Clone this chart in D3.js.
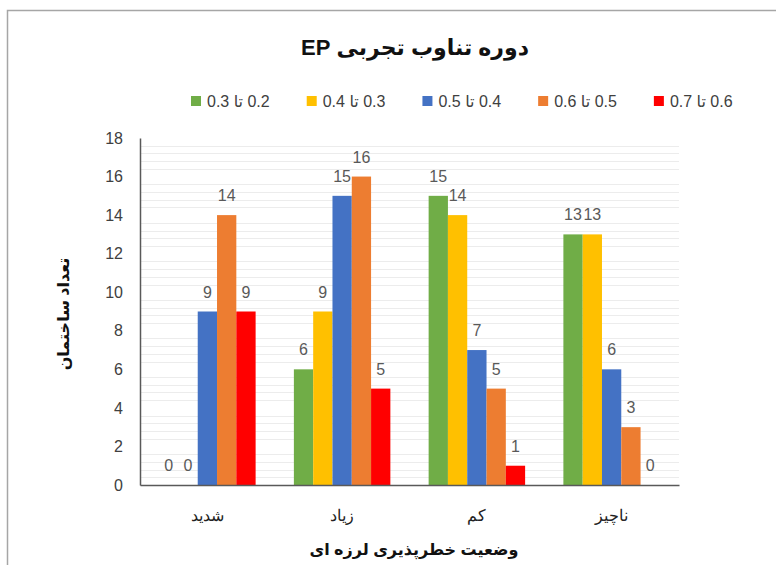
<!DOCTYPE html>
<html>
<head>
<meta charset="utf-8">
<script src="https://cdn.jsdelivr.net/npm/d3@7"></script>
<style>
	body { margin: 0; background: #fff; }
	svg { display: block; font-family: "Liberation Sans", Arial, "DejaVu Sans", sans-serif; }
</style>
</head>
<body>
<svg id="chart" width="776" height="565"></svg>
<script>
// categories along the x axis, left to right
var categories = ['شدید', 'زیاد', 'کم', 'ناچیز'];

// legend / series names
var seriesNames = ['0.2 تا 0.3', '0.3 تا 0.4', '0.4 تا 0.5', '0.5 تا 0.6', '0.6 تا 0.7'];
var seriesColors = ['#70AD47', '#FFC000', '#4472C4', '#ED7D31', '#FF0000'];

// values per series, in the order of categories
var s1 = [0, 6, 15, 13];
var s2 = [0, 9, 14, 13];
var s3 = [9, 15, 7, 6];
var s4 = [14, 16, 5, 3];
var s5 = [9, 5, 1, 0];

var yTicks = [0, 2, 4, 6, 8, 10, 12, 14, 16, 18];

var titleText = 'دوره تناوب تجربی EP';
var xTitle = 'وضعیت خطرپذیری لرزه ای';
var yTitle = 'تعداد ساختمان';

var seriesValues = [s1, s2, s3, s4, s5];

var svg = d3.select('#chart');

// outer chart frame (only left and top edges are visible)
svg.append('rect')
	.attr('x', 7.5).attr('y', 10.5)
	.attr('width', 900).attr('height', 900)
	.attr('fill', 'none')
	.attr('stroke', '#a6a6a6')
	.attr('stroke-width', 1.5);

var plotLeft = 140, plotRight = 679, plotTop = 138, plotBottom = 485;

var y = d3.scaleLinear().domain([0, 18]).range([plotBottom, plotTop]);

var x0 = d3.scaleBand()
	.domain(categories)
	.range([plotLeft, plotRight])
	.paddingInner(0.284)
	.paddingOuter(0.142);

var x1 = d3.scaleBand()
	.domain(d3.range(seriesNames.length))
	.range([0, x0.bandwidth()]);

// minor gridlines every 0.4 (major ones are not drawn)
var minor = d3.range(1, 45).filter(function(i) { return i % 5 != 0; }).map(function(i) { return i * 0.4; });
svg.append('g').selectAll('line')
	.data(minor)
	.enter()
	.append('line')
	.attr('x1', plotLeft).attr('x2', plotRight)
	.attr('y1', function(d) { return Math.round(y(d)) + 0.5; })
	.attr('y2', function(d) { return Math.round(y(d)) + 0.5; })
	.attr('stroke', '#ececec')
	.attr('stroke-width', 1);

// bars
var groups = svg.append('g').selectAll('g')
	.data(categories)
	.enter()
	.append('g')
	.attr('transform', function(d) { return 'translate(' + x0(d) + ',0)'; });

groups.selectAll('rect')
	.data(function(d, ci) {
		return seriesValues.map(function(vals, si) { return {s: si, v: vals[ci]}; });
	})
	.enter()
	.append('rect')
	.attr('x', function(d) { return x1(d.s); })
	.attr('width', x1.bandwidth())
	.attr('y', function(d) { return y(d.v); })
	.attr('height', function(d) { return plotBottom - y(d.v); })
	.attr('fill', function(d) { return seriesColors[d.s]; });

// value labels
groups.selectAll('text')
	.data(function(d, ci) {
		return seriesValues.map(function(vals, si) { return {s: si, v: vals[ci]}; });
	})
	.enter()
	.append('text')
	.attr('x', function(d) { return x1(d.s) + x1.bandwidth() / 2; })
	.attr('y', function(d) { return y(d.v) - 14; })
	.attr('text-anchor', 'middle')
	.attr('font-size', 16)
	.attr('fill', '#595959')
	.text(function(d) { return d.v; });

// y axis
var yAxis = svg.append('g')
	.attr('transform', 'translate(' + plotLeft + ',0)')
	.call(d3.axisLeft(y).tickValues(yTicks).tickSize(0).tickPadding(17));
yAxis.select('.domain').attr('stroke', '#595959').attr('stroke-width', 1.5);
yAxis.selectAll('text').attr('font-size', 16).attr('fill', '#404040').attr('font-family', null);

// x axis
var xAxis = svg.append('g')
	.attr('transform', 'translate(0,' + plotBottom + ')')
	.call(d3.axisBottom(x0).tickSize(0));
xAxis.select('.domain').attr('stroke', '#595959').attr('stroke-width', 1.5);
xAxis.selectAll('text')
	.attr('y', 30).attr('dy', '0.35em')
	.attr('direction', 'rtl')
	.attr('font-size', 16).attr('fill', '#222').attr('font-family', null);

// title
svg.append('text')
	.attr('x', 415).attr('y', 47).attr('dy', '0.35em')
	.attr('text-anchor', 'middle')
	.attr('direction', 'rtl')
	.attr('font-size', 22)
	.attr('font-weight', 'bold')
	.attr('fill', '#111')
	.text(titleText);

// axis titles
svg.append('text')
	.attr('x', 414).attr('y', 549).attr('dy', '0.35em')
	.attr('text-anchor', 'middle')
	.attr('direction', 'rtl')
	.attr('font-size', 16)
	.attr('font-weight', 'bold')
	.attr('fill', '#111')
	.text(xTitle);

svg.append('text')
	.attr('transform', 'translate(63,314) rotate(-90)')
	.attr('dy', '0.35em')
	.attr('text-anchor', 'middle')
	.attr('direction', 'rtl')
	.attr('font-size', 16)
	.attr('font-weight', 'bold')
	.attr('fill', '#111')
	.text(yTitle);

// legend
var legend = svg.append('g');
var lx = 191, ly = 101;
seriesNames.forEach(function(name, i) {
	legend.append('rect')
		.attr('x', lx).attr('y', ly - 5)
		.attr('width', 10).attr('height', 10)
		.attr('fill', seriesColors[i]);
	var t = legend.append('text')
		.attr('y', ly).attr('dy', '0.35em')
		.attr('text-anchor', 'middle')
		.attr('direction', 'rtl')
		.attr('font-size', 16)
		.attr('fill', '#404040')
		.text(name);
	var w = t.node().getComputedTextLength();
	t.attr('x', lx + 16 + w / 2);
	lx = lx + 16 + w + 37;
});
</script>
</body>
</html>
